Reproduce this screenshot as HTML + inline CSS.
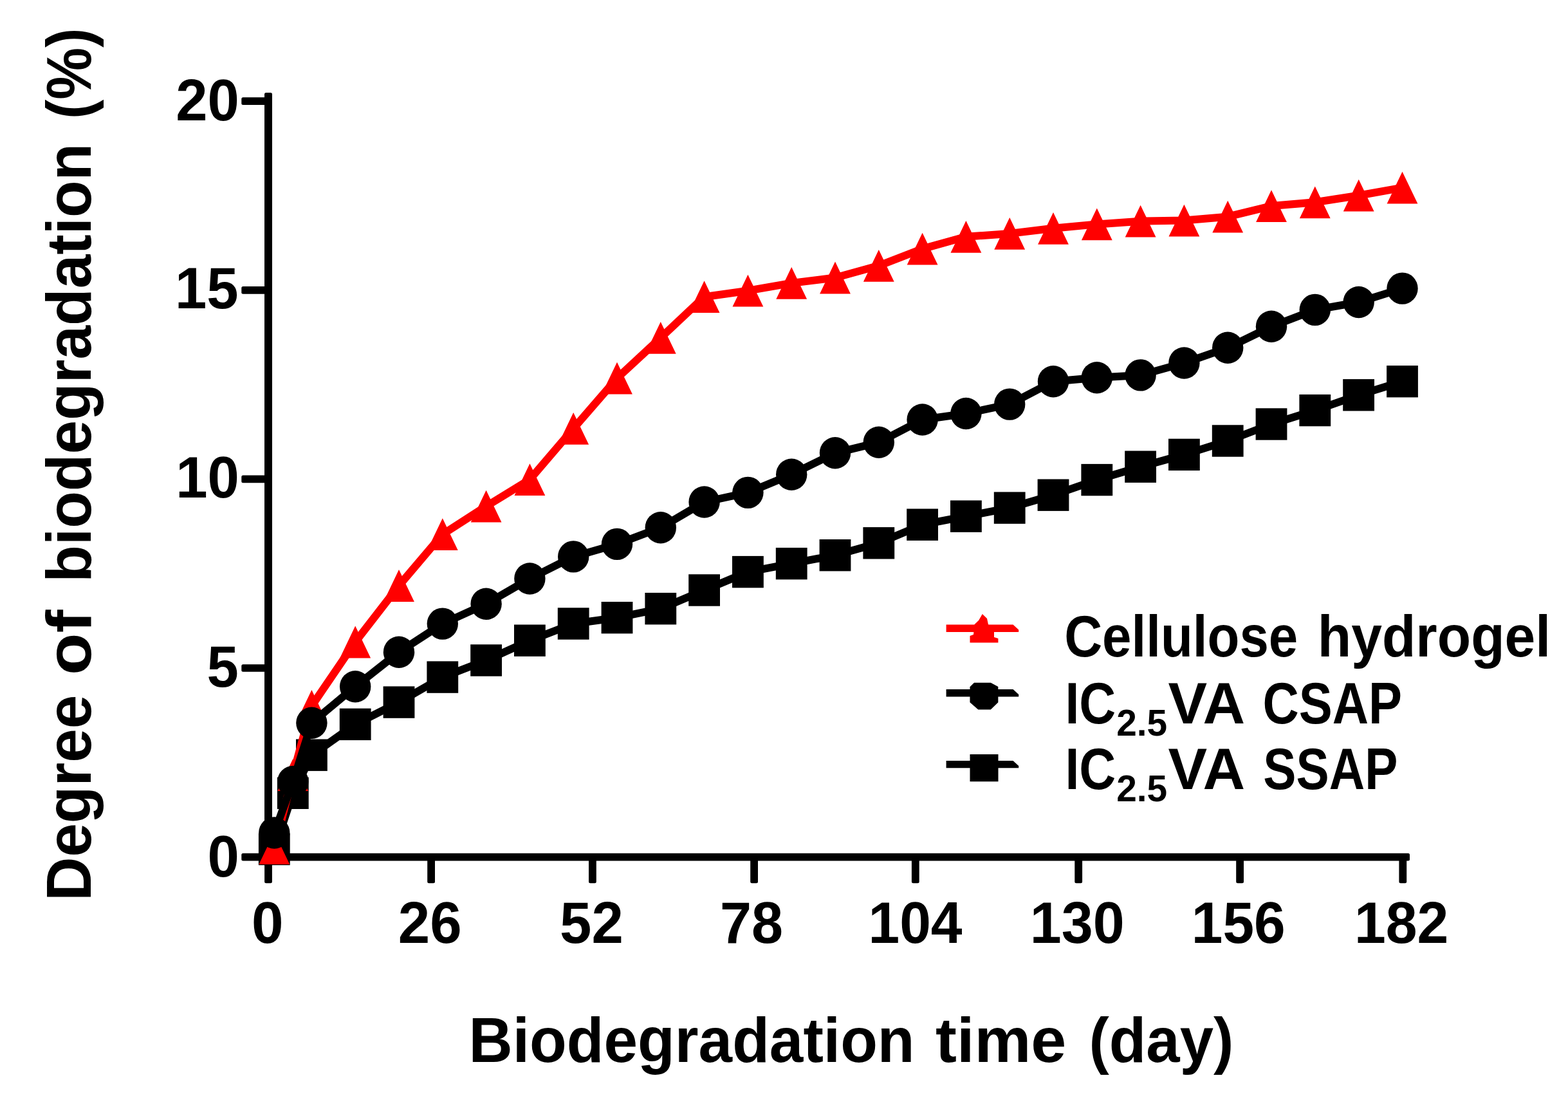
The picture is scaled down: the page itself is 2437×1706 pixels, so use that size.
<!DOCTYPE html>
<html lang="en"><head><meta charset="utf-8">
<title>Biodegradation of cellulose hydrogel and IC2.5VA SAPs</title>
<style>
html,body{margin:0;padding:0;background:#fff;}
body{width:2437px;height:1706px;overflow:hidden;}
svg{display:block;}
text{font-family:"Liberation Sans",sans-serif;font-weight:bold;fill:#000;}
.tick{font-size:90px;}
.title{font-size:99px;}
.leg{font-size:90px;}
.sub{font-size:57px;}
</style></head><body>
<svg width="2437" height="1706" viewBox="0 0 2437 1706">
<rect width="2437" height="1706" fill="#fff"/>
<g id="axes" fill="#000">
<rect x="411" y="144" width="12" height="1193.5" rx="2.5"/>
<rect x="375.3" y="1325.8" width="1815.7" height="11.7" rx="2.5"/>
<rect x="375.3" y="1032.15" width="40" height="11.7" rx="2.5"/>
<rect x="375.3" y="738.5" width="40" height="11.7" rx="2.5"/>
<rect x="375.3" y="445" width="40" height="11.7" rx="2.5"/>
<rect x="375.3" y="151.2" width="40" height="11.7" rx="2.5"/>
<rect x="411.1" y="1330" width="11.8" height="42.2" rx="2.5"/>
<rect x="664.2" y="1330" width="11.8" height="42.2" rx="2.5"/>
<rect x="915" y="1330" width="11.8" height="42.2" rx="2.5"/>
<rect x="1166.2" y="1330" width="11.8" height="42.2" rx="2.5"/>
<rect x="1416.9" y="1330" width="11.8" height="42.2" rx="2.5"/>
<rect x="1670.3" y="1330" width="11.8" height="42.2" rx="2.5"/>
<rect x="1921.2" y="1330" width="11.8" height="42.2" rx="2.5"/>
<rect x="2174.4" y="1330" width="11.8" height="42.2" rx="2.5"/>
</g>
<g id="yticks" class="tick">
<text x="322.6" y="1362.3" textLength="49.31" lengthAdjust="spacingAndGlyphs">0</text>
<text x="321.42" y="1066.9" textLength="49.31" lengthAdjust="spacingAndGlyphs">5</text>
<text x="273.25" y="772.6" textLength="98.61" lengthAdjust="spacingAndGlyphs">10</text>
<text x="272.07" y="479.3" textLength="98.61" lengthAdjust="spacingAndGlyphs">15</text>
<text x="273.25" y="186.6" textLength="98.61" lengthAdjust="spacingAndGlyphs">20</text>
</g>
<g id="xticks" class="tick">
<text x="391.03" y="1464.6" textLength="49.59" lengthAdjust="spacingAndGlyphs">0</text>
<text x="618.84" y="1464.6" textLength="98.83" lengthAdjust="spacingAndGlyphs">26</text>
<text x="870.09" y="1464.6" textLength="98.78" lengthAdjust="spacingAndGlyphs">52</text>
<text x="1119.07" y="1464.6" textLength="98.09" lengthAdjust="spacingAndGlyphs">78</text>
<text x="1349.55" y="1464.6" textLength="146" lengthAdjust="spacingAndGlyphs">104</text>
<text x="1600.82" y="1464.6" textLength="146.82" lengthAdjust="spacingAndGlyphs">130</text>
<text x="1851.75" y="1464.6" textLength="145.92" lengthAdjust="spacingAndGlyphs">156</text>
<text x="2104.93" y="1464.6" textLength="146.55" lengthAdjust="spacingAndGlyphs">182</text>
</g>
<text id="xtitle" class="title" y="1649.7"><tspan x="728.6" textLength="692.99" lengthAdjust="spacingAndGlyphs">Biodegradation</tspan> <tspan x="1454.01" textLength="203.24" lengthAdjust="spacingAndGlyphs">time</tspan> <tspan x="1692.49" textLength="224.83" lengthAdjust="spacingAndGlyphs">(day)</tspan></text>
<text id="ytitle" class="title" transform="translate(141.4 0) rotate(-90)" y="0"><tspan x="-1399.79" textLength="320" lengthAdjust="spacingAndGlyphs">Degree</tspan> <tspan x="-1048.94" textLength="101.33" lengthAdjust="spacingAndGlyphs">of</tspan> <tspan x="-904.8" textLength="682.05" lengthAdjust="spacingAndGlyphs">biodegradation</tspan> <tspan x="-184.95" textLength="141.57" lengthAdjust="spacingAndGlyphs">(%)</tspan></text>
<g id="ssap" fill="#000" stroke="none">
<polyline points="426.3,1319.5 455.3,1232.3 484.4,1173.2 552.2,1125.4 620,1091.1 687.8,1052.1 755.6,1026 823.4,995.2 891.2,969 959,959.7 1026.8,945.7 1094.6,917 1162.4,888.6 1230.2,875.7 1298,862.7 1365.8,843.8 1433.6,815.2 1501.4,802.2 1569.2,789.1 1637,769.2 1704.8,745.6 1772.6,725.2 1840.4,706.4 1908.2,685 1976,659 2043.8,637.6 2111.7,613.8 2179.5,592.7" fill="none" stroke="#000" stroke-width="12" stroke-linejoin="round"/>
<rect x="401.9" y="1294.8" width="48.8" height="49.4"/>
<rect x="430.9" y="1207.6" width="48.8" height="49.4"/>
<rect x="460" y="1148.5" width="48.8" height="49.4"/>
<rect x="527.8" y="1100.7" width="48.8" height="49.4"/>
<rect x="595.6" y="1066.4" width="48.8" height="49.4"/>
<rect x="663.4" y="1027.4" width="48.8" height="49.4"/>
<rect x="731.2" y="1001.3" width="48.8" height="49.4"/>
<rect x="799" y="970.5" width="48.8" height="49.4"/>
<rect x="866.8" y="944.3" width="48.8" height="49.4"/>
<rect x="934.6" y="935" width="48.8" height="49.4"/>
<rect x="1002.4" y="921" width="48.8" height="49.4"/>
<rect x="1070.2" y="892.3" width="48.8" height="49.4"/>
<rect x="1138" y="863.9" width="48.8" height="49.4"/>
<rect x="1205.8" y="851" width="48.8" height="49.4"/>
<rect x="1273.6" y="838" width="48.8" height="49.4"/>
<rect x="1341.4" y="819.1" width="48.8" height="49.4"/>
<rect x="1409.2" y="790.5" width="48.8" height="49.4"/>
<rect x="1477" y="777.5" width="48.8" height="49.4"/>
<rect x="1544.8" y="764.4" width="48.8" height="49.4"/>
<rect x="1612.6" y="744.5" width="48.8" height="49.4"/>
<rect x="1680.4" y="720.9" width="48.8" height="49.4"/>
<rect x="1748.2" y="700.5" width="48.8" height="49.4"/>
<rect x="1816" y="681.7" width="48.8" height="49.4"/>
<rect x="1883.8" y="660.3" width="48.8" height="49.4"/>
<rect x="1951.6" y="634.3" width="48.8" height="49.4"/>
<rect x="2019.4" y="612.9" width="48.8" height="49.4"/>
<rect x="2087.2" y="589.1" width="48.8" height="49.4"/>
<rect x="2155.1" y="568" width="48.8" height="49.4"/>
</g>
<g id="cellulose" fill="#f00" stroke="none">
<polyline points="426.3,1318 455.3,1204 484.4,1097 552.2,997.5 620,910 687.8,830.2 755.6,786.6 823.4,745.2 891.2,665.8 959,587.7 1026.8,524.9 1094.6,461.2 1162.4,451.7 1230.2,439.9 1298,431.5 1365.8,412.8 1433.6,386.6 1501.4,367.8 1569.2,362.9 1637,354.8 1704.8,348.4 1772.6,343.7 1840.4,342.6 1908.2,336.7 1976,320.1 2043.8,314.3 2111.7,303.7 2179.5,291.7" fill="none" stroke="#f00" stroke-width="12" stroke-linejoin="round"/>
<polygon points="426.3,1293.1 450.2,1342.9 402.4,1342.9"/>
<polygon points="455.3,1179.1 479.2,1228.9 431.4,1228.9"/>
<polygon points="484.4,1072.1 508.3,1121.9 460.5,1121.9"/>
<polygon points="552.2,972.6 576.1,1022.4 528.3,1022.4"/>
<polygon points="620,885.1 643.9,934.9 596.1,934.9"/>
<polygon points="687.8,805.3 711.7,855.1 663.9,855.1"/>
<polygon points="755.6,761.7 779.5,811.5 731.7,811.5"/>
<polygon points="823.4,720.3 847.3,770.1 799.5,770.1"/>
<polygon points="891.2,640.9 915.1,690.7 867.3,690.7"/>
<polygon points="959,562.8 982.9,612.6 935.1,612.6"/>
<polygon points="1026.8,500 1050.7,549.8 1002.9,549.8"/>
<polygon points="1094.6,436.3 1118.5,486.1 1070.7,486.1"/>
<polygon points="1162.4,426.8 1186.3,476.6 1138.5,476.6"/>
<polygon points="1230.2,415 1254.1,464.8 1206.3,464.8"/>
<polygon points="1298,406.6 1321.9,456.4 1274.1,456.4"/>
<polygon points="1365.8,387.9 1389.7,437.7 1341.9,437.7"/>
<polygon points="1433.6,361.7 1457.5,411.5 1409.7,411.5"/>
<polygon points="1501.4,342.9 1525.3,392.7 1477.5,392.7"/>
<polygon points="1569.2,338 1593.1,387.8 1545.3,387.8"/>
<polygon points="1637,329.9 1660.9,379.7 1613.1,379.7"/>
<polygon points="1704.8,323.5 1728.7,373.3 1680.9,373.3"/>
<polygon points="1772.6,318.8 1796.5,368.6 1748.7,368.6"/>
<polygon points="1840.4,317.7 1864.3,367.5 1816.5,367.5"/>
<polygon points="1908.2,311.8 1932.1,361.6 1884.3,361.6"/>
<polygon points="1976,295.2 1999.9,345 1952.1,345"/>
<polygon points="2043.8,289.4 2067.7,339.2 2019.9,339.2"/>
<polygon points="2111.7,278.8 2135.6,328.6 2087.8,328.6"/>
<polygon points="2179.5,266.8 2203.4,316.6 2155.6,316.6"/>
</g>
<g id="csap" fill="#000" stroke="none">
<polyline points="426.3,1294 455.3,1214.5 484.4,1123.2 552.2,1066.7 620,1013.2 687.8,969.1 755.6,938.3 823.4,899 891.2,864.9 959,845.4 1026.8,819.8 1094.6,780 1162.4,765.4 1230.2,737.2 1298,703.8 1365.8,687.3 1433.6,652 1501.4,642.5 1569.2,628.1 1637,592.8 1704.8,586.8 1772.6,582.9 1840.4,564 1908.2,540.3 1976,507.3 2043.8,481.4 2111.7,469.5 2179.5,448.1" fill="none" stroke="#000" stroke-width="12" stroke-linejoin="round"/>
<ellipse cx="426.3" cy="1294" rx="24.2" ry="24.7"/>
<ellipse cx="455.3" cy="1214.5" rx="24.2" ry="24.7"/>
<ellipse cx="484.4" cy="1123.2" rx="24.2" ry="24.7"/>
<ellipse cx="552.2" cy="1066.7" rx="24.2" ry="24.7"/>
<ellipse cx="620" cy="1013.2" rx="24.2" ry="24.7"/>
<ellipse cx="687.8" cy="969.1" rx="24.2" ry="24.7"/>
<ellipse cx="755.6" cy="938.3" rx="24.2" ry="24.7"/>
<ellipse cx="823.4" cy="899" rx="24.2" ry="24.7"/>
<ellipse cx="891.2" cy="864.9" rx="24.2" ry="24.7"/>
<ellipse cx="959" cy="845.4" rx="24.2" ry="24.7"/>
<ellipse cx="1026.8" cy="819.8" rx="24.2" ry="24.7"/>
<ellipse cx="1094.6" cy="780" rx="24.2" ry="24.7"/>
<ellipse cx="1162.4" cy="765.4" rx="24.2" ry="24.7"/>
<ellipse cx="1230.2" cy="737.2" rx="24.2" ry="24.7"/>
<ellipse cx="1298" cy="703.8" rx="24.2" ry="24.7"/>
<ellipse cx="1365.8" cy="687.3" rx="24.2" ry="24.7"/>
<ellipse cx="1433.6" cy="652" rx="24.2" ry="24.7"/>
<ellipse cx="1501.4" cy="642.5" rx="24.2" ry="24.7"/>
<ellipse cx="1569.2" cy="628.1" rx="24.2" ry="24.7"/>
<ellipse cx="1637" cy="592.8" rx="24.2" ry="24.7"/>
<ellipse cx="1704.8" cy="586.8" rx="24.2" ry="24.7"/>
<ellipse cx="1772.6" cy="582.9" rx="24.2" ry="24.7"/>
<ellipse cx="1840.4" cy="564" rx="24.2" ry="24.7"/>
<ellipse cx="1908.2" cy="540.3" rx="24.2" ry="24.7"/>
<ellipse cx="1976" cy="507.3" rx="24.2" ry="24.7"/>
<ellipse cx="2043.8" cy="481.4" rx="24.2" ry="24.7"/>
<ellipse cx="2111.7" cy="469.5" rx="24.2" ry="24.7"/>
<ellipse cx="2179.5" cy="448.1" rx="24.2" ry="24.7"/>
</g>
<g id="legend">
<polygon fill="#f00" points="1470.6,970.6 1574.5,970.6 1583.2,978.6 1583.2,982.1 1470.6,982.1"/>
<polygon fill="#f00" points="1526.8,954 1534,961 1536,970.2 1545,982.3 1545,990 1551.4,992 1551.4,998.5 1507.5,998.5 1507.5,988 1513,986 1514.5,970.2 1521,964"/>
<polygon fill="#000" points="1470.6,1071 1574.5,1071 1583.2,1079 1583.2,1082.6 1470.6,1082.6"/>
<polygon fill="#000" stroke="#000" stroke-width="1.5" stroke-linejoin="round" points="1514.5,1061.4 1539.5,1061.4 1550.6,1067.5 1550.6,1091 1539.5,1101.8 1520.5,1101.8 1508.2,1091 1508.2,1067.5"/>
<polygon fill="#000" points="1470.6,1181.9 1574.5,1181.9 1583.2,1189.9 1583.2,1193.2 1470.6,1193.2"/>
<rect fill="#000" x="1507.5" y="1172" width="44" height="42.3"/>
<text class="leg" y="1020.2"><tspan x="1654.13" textLength="363.12" lengthAdjust="spacingAndGlyphs">Cellulose</tspan> <tspan x="2047.78" textLength="362.37" lengthAdjust="spacingAndGlyphs">hydrogel</tspan></text>
<text class="leg" y="1124.1"><tspan x="1655.44" textLength="78.86" lengthAdjust="spacingAndGlyphs">IC</tspan><tspan x="1735.21" textLength="79.02" lengthAdjust="spacingAndGlyphs" class="sub" dy="18.8">2.5</tspan><tspan x="1815.51" textLength="116.19" lengthAdjust="spacingAndGlyphs" dy="-18.8">VA</tspan> <tspan x="1962.48" textLength="216.59" lengthAdjust="spacingAndGlyphs">CSAP</tspan></text>
<text class="leg" y="1225.9"><tspan x="1655.44" textLength="78.86" lengthAdjust="spacingAndGlyphs">IC</tspan><tspan x="1735.21" textLength="79.02" lengthAdjust="spacingAndGlyphs" class="sub" dy="18.8">2.5</tspan><tspan x="1815.51" textLength="116.19" lengthAdjust="spacingAndGlyphs" dy="-18.8">VA</tspan> <tspan x="1963.3" textLength="209.05" lengthAdjust="spacingAndGlyphs">SSAP</tspan></text>
</g>
</svg>
</body></html>
